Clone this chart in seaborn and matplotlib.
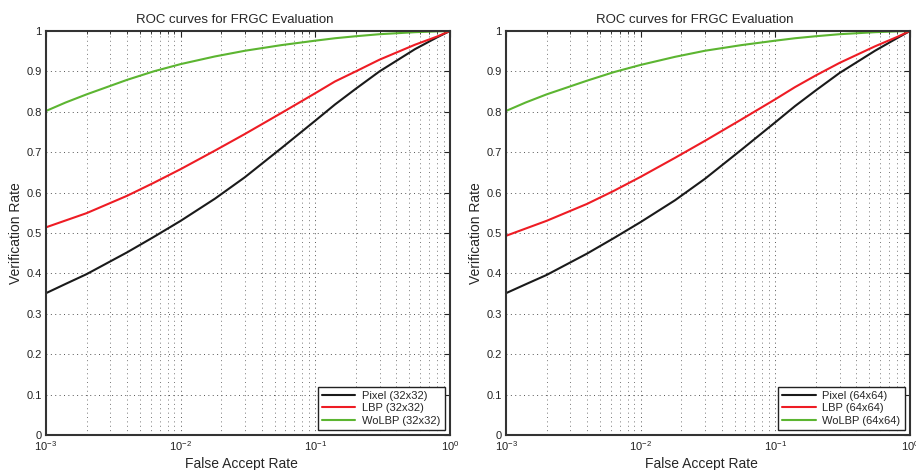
import numpy as np
import pandas as pd
import matplotlib
matplotlib.use("Agg")
import matplotlib.pyplot as plt
import seaborn as sns

far = [1e-3, 1.4e-3, 2e-3, 4e-3, 6.3e-3, 1e-2, 1.8e-2, 3e-2, 5.6e-2,
       1e-1, 1.4e-1, 2e-1, 3e-1, 5.5e-1, 8e-1, 1.0]

# 32x32 panel
pixel_32 = [0.351, 0.374, 0.398, 0.452, 0.490, 0.530, 0.585, 0.638, 0.710,
            0.778, 0.818, 0.857, 0.900, 0.955, 0.984, 1.0]
lbp_32 = [0.514, 0.531, 0.549, 0.592, 0.624, 0.658, 0.704, 0.745, 0.797,
          0.846, 0.875, 0.900, 0.929, 0.966, 0.986, 1.0]
wolbp_32 = [0.802, 0.823, 0.843, 0.879, 0.900, 0.918, 0.937, 0.951, 0.965,
            0.976, 0.982, 0.987, 0.992, 0.997, 0.999, 1.0]

# 64x64 panel
pixel_64 = [0.351, 0.373, 0.396, 0.449, 0.487, 0.527, 0.581, 0.634, 0.706,
            0.774, 0.814, 0.853, 0.896, 0.951, 0.982, 1.0]
lbp_64 = [0.493, 0.511, 0.530, 0.572, 0.604, 0.639, 0.686, 0.728, 0.781,
          0.831, 0.861, 0.890, 0.921, 0.962, 0.985, 1.0]
wolbp_64 = [0.802, 0.823, 0.843, 0.877, 0.898, 0.916, 0.936, 0.951, 0.965,
            0.976, 0.982, 0.987, 0.992, 0.997, 0.999, 1.0]

colors = ["#1a1a1a", "#ee1c24", "#5cb531"]
y_ticks = [0, 0.1, 0.2, 0.3, 0.4, 0.5, 0.6, 0.7, 0.8, 0.9, 1]
y_labels = ["0", "0.1", "0.2", "0.3", "0.4", "0.5", "0.6", "0.7", "0.8", "0.9", "1"]

sns.set_style("white")
plt.rcParams["font.family"] = ["Liberation Sans", "DejaVu Sans"]
plt.rcParams["mathtext.fontset"] = "custom"
plt.rcParams["mathtext.rm"] = "Liberation Sans"


def make_frame(size, pixel, lbp, wolbp):
    rows = []
    for name, vals in [("Pixel", pixel), ("LBP", lbp), ("WoLBP", wolbp)]:
        for x, y in zip(far, vals):
            rows.append({"far": x, "rate": y, "method": f"{name} ({size})"})
    return pd.DataFrame(rows)


panels = [
    make_frame("32x32", pixel_32, lbp_32, wolbp_32),
    make_frame("64x64", pixel_64, lbp_64, wolbp_64),
]

fig = plt.figure(figsize=(9.16, 4.70), dpi=100)
ax_l = fig.add_axes([0.0502, 0.0745, 0.441, 0.8596])
ax_r = fig.add_axes([0.5524, 0.0745, 0.441, 0.8596])

# matlab-ish dotted grid
dots = (0, (1, 3.5))

for ax, df in zip([ax_l, ax_r], panels):
    sns.lineplot(data=df, x="far", y="rate", hue="method", palette=colors,
                 linewidth=1.5, ax=ax)
    ax.set_xscale("log")
    ax.set_xlim(1e-3, 1)
    ax.set_ylim(0, 1)
    ax.set_yticks(y_ticks)
    ax.set_yticklabels(y_labels)
    ax.grid(True, which="major", linestyle=dots, color="#555555", linewidth=0.7)
    ax.grid(True, which="minor", axis="x", linestyle=dots, color="#777777", linewidth=0.7)
    ax.set_axisbelow(True)
    ax.tick_params(which="both", direction="in", top=True, right=True,
                   labelsize=8, colors="#222222", pad=3)
    ax.tick_params(which="major", length=4)
    ax.tick_params(which="minor", length=2)
    for sp in ax.spines.values():
        sp.set_color("#333333")
        sp.set_linewidth(1.5)
    ax.set_title("ROC curves for FRGC Evaluation", fontsize=9.5, pad=6, x=0.468)
    ax.set_xlabel("False Accept Rate", fontsize=10, labelpad=3)
    ax.xaxis.set_label_coords(0.485, -0.055)
    ax.set_ylabel("Verification Rate", fontsize=10)
    ax.yaxis.set_label_coords(-0.058, 0.5)
    leg = ax.legend(loc="lower right", fontsize=8, frameon=True, fancybox=False,
                    borderaxespad=0.45, handlelength=3.0, handletextpad=0.6,
                    borderpad=0.4, labelspacing=0.2)
    leg.get_frame().set_edgecolor("#222222")
    leg.get_frame().set_linewidth(1.0)
    leg.get_frame().set_alpha(1.0)

fig.savefig("out.png", dpi=100)
